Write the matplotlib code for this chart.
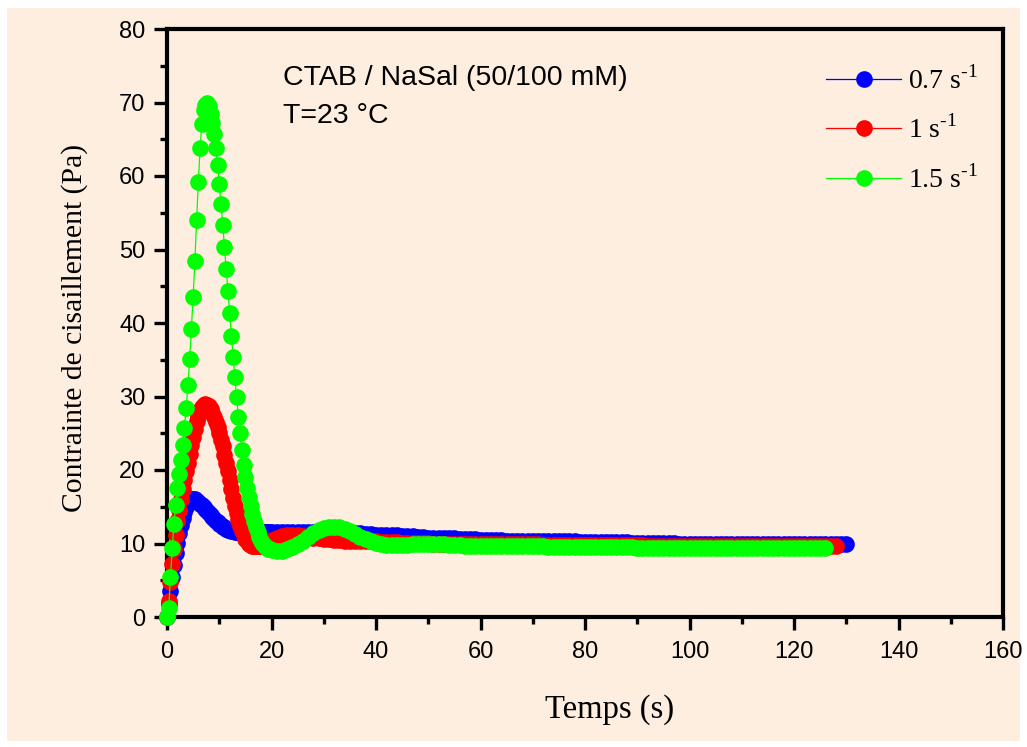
import numpy as np
import matplotlib.pyplot as plt
from matplotlib.patches import Rectangle

# shear stress start-up curves, CTAB/NaSal 50/100 mM, 23 C
# first 20 s sampled every 1/3 s, then read every 1 s
t_fine = np.arange(60) / 3.0

blue_fine = [0, 1.8, 3.6, 5.4, 7.1, 8.7, 10.1, 11.4, 12.5, 13.5,
             14.3, 15.0, 15.5, 15.8, 16.0, 16.0, 16.0, 15.8, 15.6, 15.4,
             15.2, 14.9, 14.7, 14.4, 14.1, 13.9, 13.6, 13.4, 13.1, 12.9,
             12.7, 12.5, 12.3, 12.2, 12.0, 11.9, 11.8, 11.7, 11.7, 11.6,
             11.6, 11.6, 11.6, 11.6, 11.6, 11.6, 11.6, 11.6, 11.6, 11.6,
             11.6, 11.6, 11.6, 11.6, 11.6, 11.6, 11.6, 11.6, 11.6, 11.6]
blue_coarse = [11.6, 11.6, 11.6, 11.6, 11.6, 11.6, 11.6, 11.6, 11.6, 11.6,
               11.6, 11.5, 11.5, 11.5, 11.5, 11.4, 11.4, 11.4, 11.3, 11.3,
               11.2, 11.2, 11.2, 11.1, 11.1, 11.0, 11.0, 11.0, 10.9, 10.9,
               10.8, 10.8, 10.8, 10.7, 10.7, 10.7, 10.6, 10.6, 10.6, 10.6,
               10.5, 10.5, 10.5, 10.5, 10.5, 10.4, 10.4, 10.4, 10.4, 10.4,
               10.35, 10.35, 10.3, 10.3, 10.3, 10.3, 10.3, 10.3, 10.3, 10.25,
               10.25, 10.2, 10.2, 10.2, 10.2, 10.2, 10.15, 10.15, 10.15, 10.1,
               10.1, 10.1, 10.1, 10.1, 10.1, 10.05, 10.05, 10.05, 10.0, 10.0,
               10.0, 10.0, 10.0, 10.0, 10.0, 10.0, 10.0, 10.0, 10.0, 9.95,
               9.95, 9.95, 9.95, 9.95, 9.95, 9.95, 9.95, 9.9, 9.9, 9.9,
               9.9, 9.9, 9.9, 9.9, 9.9, 9.9, 9.9, 9.9, 9.9, 9.9, 9.9]

red_fine = [0, 2.2, 4.8, 7.2, 9.3, 11.2, 13.0, 14.6, 16.0, 17.4,
            18.6, 19.8, 21.0, 22.2, 23.4, 24.5, 25.6, 26.6, 27.4, 28.1,
            28.6, 28.9, 29.0, 28.9, 28.7, 28.3, 27.8, 27.2, 26.5, 25.8,
            25.0, 24.1, 23.2, 22.1, 21.0, 19.8, 18.6, 17.4, 16.2, 15.1,
            14.1, 13.2, 12.4, 11.7, 11.1, 10.6, 10.3, 10.0, 9.8, 9.7,
            9.6, 9.6, 9.6, 9.6, 9.7, 9.8, 9.9, 10.0, 10.1, 10.3]
red_coarse = [10.5, 10.8, 11.0, 11.1, 11.1, 11.1, 11.0, 10.9, 10.8, 10.7,
              10.6, 10.6, 10.5, 10.5, 10.4, 10.4, 10.4, 10.3, 10.3, 10.3,
              10.3, 10.2, 10.2, 10.2, 10.2, 10.1, 10.1, 10.1, 10.1, 10.1,
              10.1, 10.0, 10.0, 10.0, 10.0, 10.0, 10.0, 10.0, 10.0, 9.9,
              9.9, 9.9, 9.9, 9.9, 9.9, 9.9, 9.9, 9.9, 9.9, 9.9,
              9.9, 9.9, 9.8, 9.8, 9.8, 9.8, 9.8, 9.8, 9.8, 9.8,
              9.8, 9.8, 9.8, 9.8, 9.8, 9.8, 9.8, 9.8, 9.8, 9.8,
              9.8, 9.8, 9.7, 9.7, 9.7, 9.7, 9.7, 9.7, 9.7, 9.7,
              9.7, 9.7, 9.7, 9.7, 9.7, 9.7, 9.7, 9.7, 9.7, 9.7,
              9.7, 9.7, 9.6, 9.6, 9.6, 9.6, 9.6, 9.6, 9.6, 9.6,
              9.6, 9.6, 9.6, 9.6, 9.6, 9.6, 9.6, 9.6, 9.6]

green_fine = [0, 1.2, 5.5, 9.4, 12.7, 15.2, 17.5, 19.4, 21.4, 23.4,
              25.7, 28.4, 31.5, 35.1, 39.2, 43.5, 48.4, 54.0, 59.2, 63.8,
              67.1, 69.0, 69.7, 70.0, 69.5, 68.5, 67.2, 65.7, 63.8, 61.5,
              58.9, 56.2, 53.3, 50.4, 47.3, 44.4, 41.4, 38.2, 35.4, 32.6,
              29.9, 27.2, 25.0, 22.7, 20.7, 19.0, 17.6, 16.3, 15.1, 14.0,
              13.0, 12.2, 11.5, 10.9, 10.4, 10.0, 9.7, 9.5, 9.3, 9.2]
green_coarse = [9.1, 9.0, 9.0, 9.2, 9.5, 9.9, 10.4, 10.9, 11.4, 11.8,
                12.1, 12.3, 12.3, 12.2, 12.0, 11.7, 11.3, 10.9, 10.6, 10.3,
                10.1, 9.9, 9.8, 9.8, 9.8, 9.8, 9.8, 9.9, 9.9, 10.0,
                10.0, 10.0, 9.9, 9.9, 9.8, 9.8, 9.8, 9.7, 9.7, 9.7,
                9.7, 9.7, 9.6, 9.6, 9.6, 9.6, 9.6, 9.6, 9.6, 9.6,
                9.6, 9.6, 9.6, 9.5, 9.5, 9.5, 9.5, 9.5, 9.5, 9.5,
                9.5, 9.5, 9.5, 9.5, 9.5, 9.5, 9.5, 9.5, 9.5, 9.5,
                9.4, 9.4, 9.4, 9.4, 9.4, 9.4, 9.4, 9.4, 9.4, 9.4,
                9.4, 9.4, 9.4, 9.4, 9.4, 9.4, 9.4, 9.4, 9.4, 9.4,
                9.4, 9.4, 9.4, 9.4, 9.4, 9.4, 9.4, 9.4, 9.4, 9.4,
                9.4, 9.4, 9.4, 9.4, 9.4, 9.4, 9.4]

labels = ['0.7 s$^{\\text{-1}}$', '1 s$^{\\text{-1}}$', '1.5 s$^{\\text{-1}}$']
colors = ['#0000ff', '#ff0000', '#00ff00']

bg = '#fdeee0'
plt.rcParams['mathtext.fontset'] = 'custom'
plt.rcParams['mathtext.rm'] = 'Liberation Serif'

fig = plt.figure(figsize=(10.27, 7.47), dpi=100, facecolor='white')
fig.patches.append(Rectangle((7 / 1027, 6 / 747), 1013 / 1027, 733 / 747,
                             transform=fig.transFigure, facecolor=bg,
                             edgecolor='none', zorder=-10))
ax = fig.add_axes([167 / 1027, 1 - 617 / 747, 836 / 1027, 588 / 747])
ax.set_facecolor(bg)

for fine, coarse, c, lab in [(blue_fine, blue_coarse, colors[0], labels[0]),
                             (red_fine, red_coarse, colors[1], labels[1]),
                             (green_fine, green_coarse, colors[2], labels[2])]:
    t = np.concatenate([t_fine, np.arange(20, 20 + len(coarse))])
    y = np.array(fine + coarse)
    ax.plot(t, y, '-o', color=c, lw=0.9, ms=12, mew=0, label=lab,
            clip_on=False, zorder=3)

ax.set_xlim(0, 160)
ax.set_ylim(0, 80)
ax.set_xticks(np.arange(0, 161, 20))
ax.set_xticks(np.arange(10, 160, 20), minor=True)
ax.set_yticks(np.arange(0, 81, 10))
ax.set_yticks(np.arange(5, 80, 10), minor=True)

for sp in ax.spines.values():
    sp.set_linewidth(3)
    sp.set_zorder(2)
ax.tick_params(which='major', direction='out', length=9.5, width=2.4, pad=6,
               labelsize=17)
ax.tick_params(which='minor', direction='out', length=5, width=2.4)
ax.tick_params(axis='x', which='major', pad=8)
for lbl in ax.get_xticklabels() + ax.get_yticklabels():
    lbl.set_family('Liberation Sans')

ax.set_xlabel('Temps (s)', family='Liberation Serif', fontsize=23.5)
ax.xaxis.set_label_coords((610 - 167) / 836, -(694 - 617) / 588)
ax.set_ylabel('Contrainte de cisaillement (Pa)', family='Liberation Serif',
              fontsize=21.3)
ax.yaxis.set_label_coords(-(167 - 88) / 836, (617 - 328) / 588)

fig.text(283 / 1027, 1 - 85 / 747, 'CTAB / NaSal (50/100 mM)',
         family='Liberation Sans', fontsize=20.5, va='baseline')
fig.text(283 / 1027, 1 - 123 / 747, 'T=23 °C',
         family='Liberation Sans', fontsize=20.5, va='baseline')

ax.legend(loc='upper left', bbox_to_anchor=(826 / 1027, 1 - 66 / 747),
          bbox_transform=fig.transFigure, frameon=False, numpoints=1,
          prop={'family': 'Liberation Serif', 'size': 20},
          handlelength=2.7, handletextpad=0.25, labelspacing=0.75,
          borderpad=0, borderaxespad=0)

fig.savefig('out.png', dpi=100, facecolor=fig.get_facecolor())
